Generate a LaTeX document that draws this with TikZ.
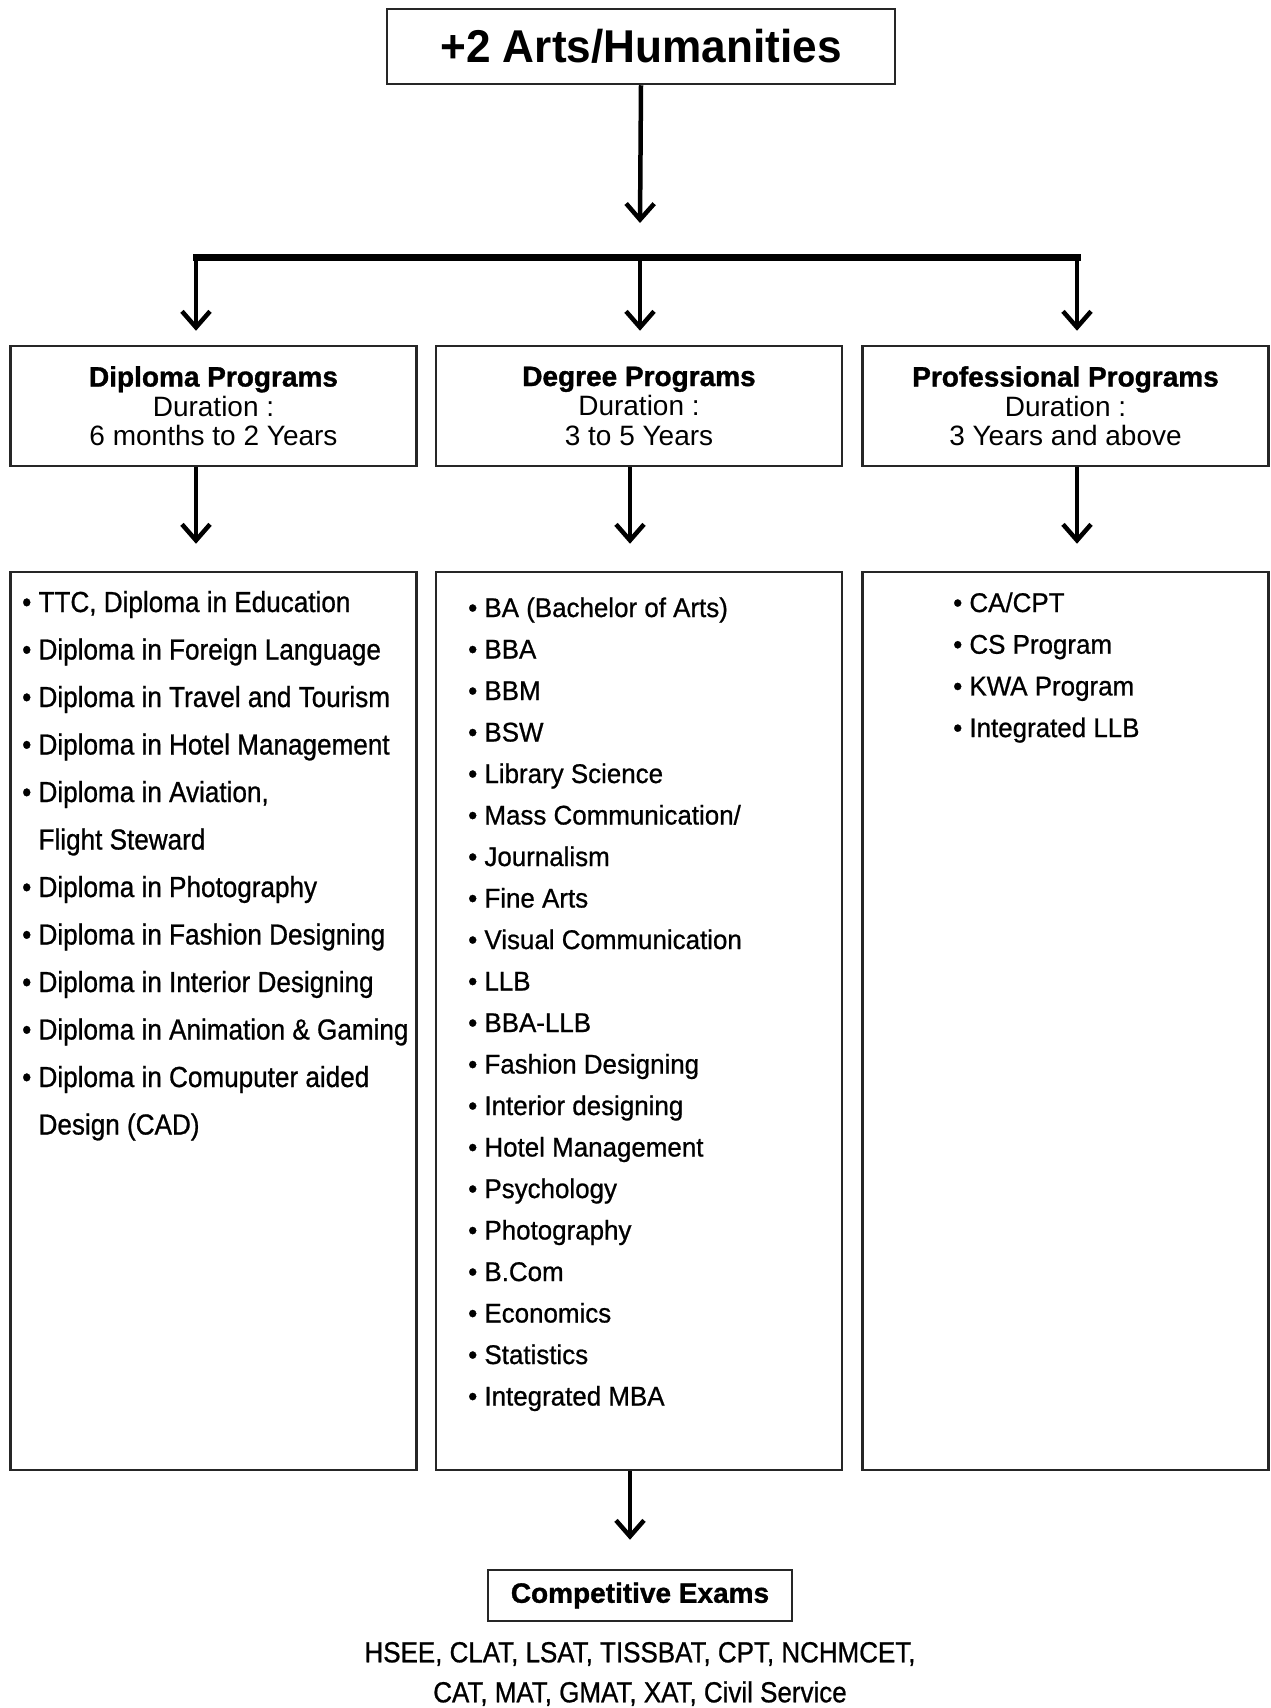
\documentclass[tikz,border=0pt]{standalone}
\usepackage{fontspec}
\setmainfont{Liberation Sans}
\newfontfamily\fTop[FakeStretch=0.96]{Liberation Sans}
\newfontfamily\fHead[BoldFeatures={FakeBold=1.2}]{Liberation Sans}
\newfontfamily\fLeft[FakeStretch=0.9,FakeBold=0.8]{Liberation Sans}
\newfontfamily\fMid[FakeStretch=0.96,FakeBold=0.8]{Liberation Sans}
\newfontfamily\fBot[FakeStretch=0.895,FakeBold=0.8]{Liberation Sans}
\usetikzlibrary{arrows.meta}
\newcommand\mybul{\textbullet\ }
\newcommand\mynob{\hphantom{\textbullet\ }}
\begin{document}
\begin{tikzpicture}[x=1pt,y=-1pt,
  box/.style={draw=black!85, line width=2.5pt, inner sep=0pt},
  headbox/.style={box, minimum width=406pt, minimum height=120pt, align=center,
    font={\fHead\fontsize{28}{29.5}\selectfont}},
  listbox/.style={box, minimum width=406pt, minimum height=898pt},
  conn/.style={line width=4.5pt, -{Straight Barb[length=16pt,width=28pt]}},
  ditem/.style={anchor=base west, inner sep=0pt, font={\fLeft\fontsize{29}{34}\selectfont}},
  mitem/.style={anchor=base west, inner sep=0pt, font={\fMid\fontsize{27}{32}\selectfont}},
  pitem/.style={anchor=base west, inner sep=0pt, font={\fMid\fontsize{27}{32}\selectfont}}]
\useasboundingbox (0,0) rectangle (1270,1708);
\fill[white] (0,0) rectangle (1270,1708);

% top
\node[box, minimum width=508pt, minimum height=75pt,
  font={\fTop\bfseries\fontsize{46}{50}\selectfont}] (top) at (641,46.5) {+2 Arts/Humanities};

% program boxes
\node[headbox] (b1) at (213.5,406) {\textbf{Diploma Programs}\\Duration :\\6 months to 2 Years};
\node[headbox] (b2) at (639,406) {\textbf{Degree Programs}\\Duration :\\3 to 5 Years};
\node[headbox] (b3) at (1065.5,406) {\textbf{Professional Programs}\\Duration :\\3 Years and above};

% list boxes
\node[listbox] (c1) at (213.5,1021) {};
\node[listbox] (c2) at (639,1021) {};
\node[listbox] (c3) at (1065.5,1021) {};

% competitive
\node[box, minimum width=304pt, minimum height=51pt,
  font={\fHead\bfseries\fontsize{28}{32}\selectfont}] (comp) at (640,1595.5) {Competitive Exams};
\node[align=center, inner sep=0pt, font={\fBot\fontsize{29}{40}\selectfont}] (exams) at (640,1674)
  {HSEE, CLAT, LSAT, TISSBAT, CPT, NCHMCET,\\CAT, MAT, GMAT, XAT, Civil Service};

% connectors
\coordinate (j) at (640,223);
\coordinate (bl) at (196,257);
\coordinate (bm) at (640,257);
\coordinate (br) at (1077,257);
\coordinate (x2) at (630,0);
\draw[conn] (top.south) -- (j);
\draw[line width=7pt, line cap=rect] (bl) -- (br);
\draw[conn, shorten >=14pt] (bl) -- (bl |- b1.north);
\draw[conn, shorten >=14pt] (bm) -- (bm |- b2.north);
\draw[conn, shorten >=14pt] (br) -- (br |- b3.north);
\draw[conn, shorten >=27pt] (b1.south -| bl) -- (c1.north -| bl);
\draw[conn, shorten >=27pt] (b2.south -| x2) -- (c2.north -| x2);
\draw[conn, shorten >=27pt] (b3.south -| br) -- (c3.north -| br);
\draw[conn, shorten >=29pt] (c2.south -| x2) -- (comp.north -| x2);

% diploma list
\foreach \t [count=\i from 0] in {
  {\mybul TTC, Diploma in Education},
  {\mybul Diploma in Foreign Language},
  {\mybul Diploma in Travel and Tourism},
  {\mybul Diploma in Hotel Management},
  {\mybul Diploma in Aviation,},
  {\mynob Flight Steward},
  {\mybul Diploma in Photography},
  {\mybul Diploma in Fashion Designing},
  {\mybul Diploma in Interior Designing},
  {\mybul Diploma in Animation \& Gaming},
  {\mybul Diploma in Comuputer aided},
  {\mynob Design (CAD)}}
  \node[ditem] (d\i) at (22,612+47.5*\i) {\t};

% degree list
\foreach \t [count=\i from 0] in {
  BA (Bachelor of Arts), BBA, BBM, BSW, Library Science,
  Mass Communication/, Journalism, Fine Arts, Visual Communication,
  LLB, BBA-LLB, Fashion Designing, Interior designing, Hotel Management,
  Psychology, Photography, B.Com, Economics, Statistics, Integrated MBA}
  \node[mitem] (m\i) at (468,617+41.5*\i) {\mybul\t};

% professional list
\foreach \t [count=\i from 0] in {CA/CPT, CS Program, KWA Program, Integrated LLB}
  \node[pitem] (p\i) at (953,612+41.7*\i) {\mybul\t};
\end{tikzpicture}
\end{document}
